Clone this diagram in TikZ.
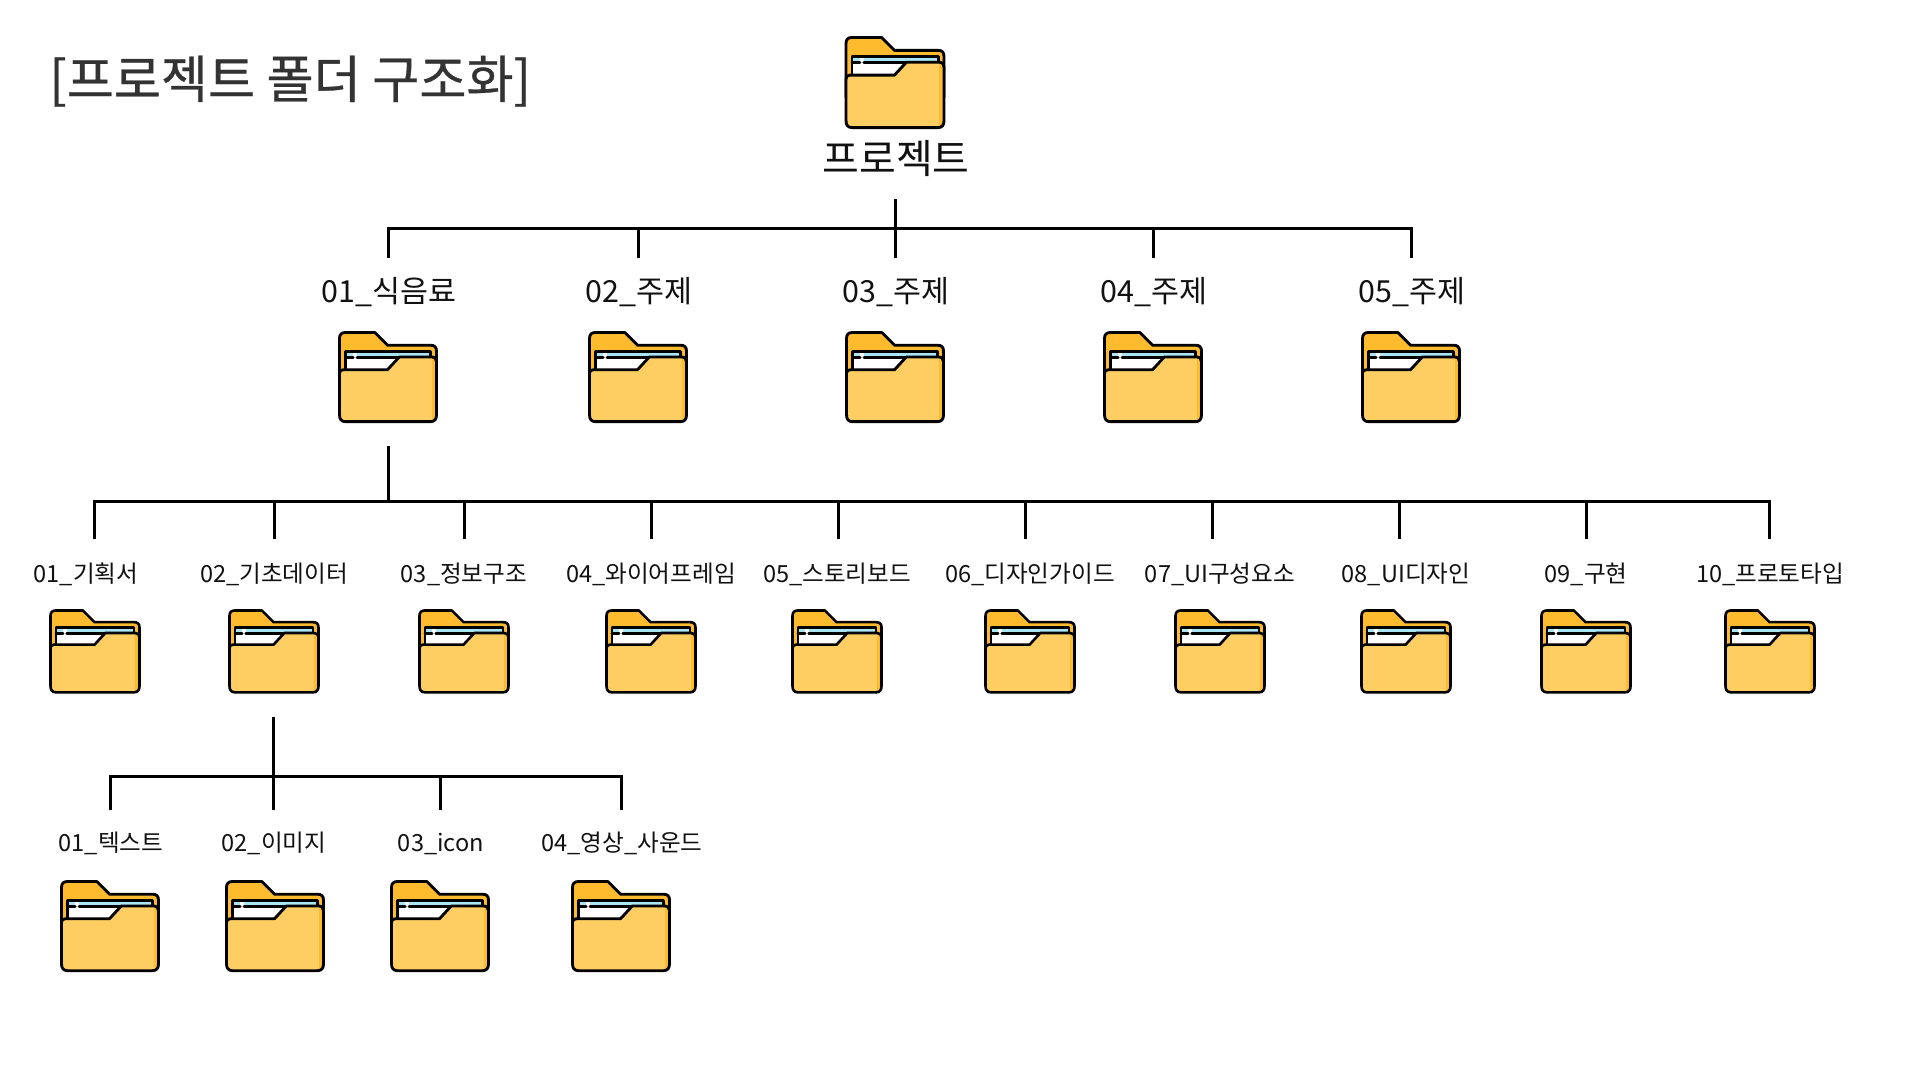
\documentclass[tikz,border=0pt]{standalone}
\usepackage{fontspec}
\setmainfont{Noto Sans CJK KR}
\newfontfamily\titlefont[FakeBold=0.6]{Noto Sans CJK KR}
\definecolor{ftab}{HTML}{FFBB2E}
\definecolor{ffront}{HTML}{FFCE63}
\definecolor{fblue}{HTML}{A9E5F5}
\definecolor{ink}{HTML}{111111}
\definecolor{titleink}{HTML}{333333}
\tikzset{
  x=0.5pt,y=-0.5pt,
  wire/.style={draw=black,line width=1.5pt,line cap=butt},
  foldline/.style={draw=black,line join=round,line cap=round},
  title/.style={anchor=base west,inner sep=0pt,text=titleink,font=\titlefont\fontsize{25.6}{30}\selectfont},
  rootlabel/.style={anchor=base,inner sep=0pt,text=ink,font=\fontsize{20}{24}\selectfont},
  midlabel/.style={anchor=base,inner sep=0pt,text=ink,font=\fontsize{15.2}{18}\selectfont},
  smalllabel/.style={anchor=base,inner sep=0pt,text=ink,font=\fontsize{11.8}{14}\selectfont},
}
\newcommand{\frontpath}{(0,42) .. controls (0,39.5) and (1,38) .. (4,38) -- (49,38) -- (61,25) -- (94,25) .. controls (97.5,25) and (99,27) .. (99,30) -- (99,84) .. controls (99,88.5) and (97,91) .. (93,91) -- (6,91) .. controls (2,91) and (0,88.5) .. (0,84) -- cycle}
% cx, top, width in px
\newcommand{\folderpic}[3]{%
\begin{scope}[shift={(#1-#3/2+0.5,#2+0.5)},x=0.00505pt*(#3-1),y=-0.00505pt*(#3-1),line width=0.0145pt*#3]
  \path[foldline,fill=ftab]
    (0,45) -- (0,6) .. controls (0,2) and (2,0) .. (6,0) -- (36,0) -- (49,13) -- (93,13) .. controls (97,13) and (99,15) .. (99,19) -- (99,60) -- (0,60) -- cycle;
  \fill[fblue] (6,19) rectangle (93,26);
  \fill[white] (6,26) -- (60,26) -- (49,37) -- (6,37) -- cycle;
  \fill[white] (14,19) rectangle (18,26);
  \draw[foldline] (6,37) -- (6,19) -- (93,19) -- (93,26);
  \draw[foldline] (6,25.5) -- (14,25.5) (18,25.5) -- (61,25.5);
  \begin{scope}
    \clip \frontpath;
    \fill[ffront] (0,20) rectangle (99,91);
    \fill[ftab] (94,20) rectangle (99,91);
  \end{scope}
  \draw[foldline] \frontpath;
\end{scope}}
\begin{document}
\begin{tikzpicture}
\useasboundingbox (0,0) rectangle (1920,1080);
\fill[white] (0,0) rectangle (1920,1080);

\node[title] (ttl) at (49,98) {[프로젝트 폴더 구조화]};

% root
\folderpic{895}{37}{99}
\node[rootlabel] (root) at (896,174) {프로젝트};

% level 1
\foreach \n/\cx/\t in {la/388/01\_식음료,lb/638/02\_주제,lc/895/03\_주제,ld/1153/04\_주제,le/1411/05\_주제}{
  \folderpic{\cx}{332}{98}
  \node[midlabel] at (\cx+1,303) (\n) {\t};
  \coordinate (d\n) at (\cx,258);
}
\coordinate (stemA) at (895,199);
\coordinate (busA) at (895,229);
\draw[wire] (stemA) -- (dlc);
\draw[wire] (dla) |- (busA) -| (dle);
\draw[wire] (dlb) -- (dlb |- busA);
\draw[wire] (dld) -- (dld |- busA);

% level 2
\foreach \n/\cx/\fx/\lx/\t in {
  ma/94/95/86/01\_기획서,
  mb/274/274/274/02\_기초데이터,
  mc/464/464/464/03\_정보구조,
  md/651/651/651/04\_와이어프레임,
  me/838/837/837/05\_스토리보드,
  mf/1025/1030/1030/06\_디자인가이드,
  mg/1212/1220/1220/07\_UI구성요소,
  mh/1399/1406/1406/08\_UI디자인,
  mi/1586/1586/1586/09\_구현,
  mj/1769/1770/1770/10\_프로토타입}{
  \folderpic{\fx}{610}{90}
  \node[smalllabel] (\n) at (\lx,582) {\t};
  \coordinate (d\n) at (\cx,539);
}
\coordinate (stemB) at (388,446);
\coordinate (busB) at (388,501);
\draw[wire] (stemB) -- (busB);
\draw[wire] (dma) |- (busB) -| (dmj);
\foreach \n in {mb,mc,md,me,mf,mg,mh,mi}{
  \draw[wire] (d\n) -- (d\n |- busB);
}

% level 3
\foreach \n/\cx/\fx/\t in {
  na/110/110/01\_텍스트,
  nb/273/275/02\_이미지,
  nc/440/440/03\_icon,
  nd/621/621/04\_영상\_사운드}{
  \folderpic{\fx}{881}{98}
  \node[smalllabel] (\n) at (\cx+1,851) {\t};
  \coordinate (d\n) at (\cx,810);
}
\coordinate (stemC) at (273,717);
\coordinate (busC) at (273,776);
\draw[wire] (stemC) -- (dnb);
\draw[wire] (dna) |- (busC) -| (dnd);
\draw[wire] (dnc) -- (dnc |- busC);
\end{tikzpicture}
\end{document}
